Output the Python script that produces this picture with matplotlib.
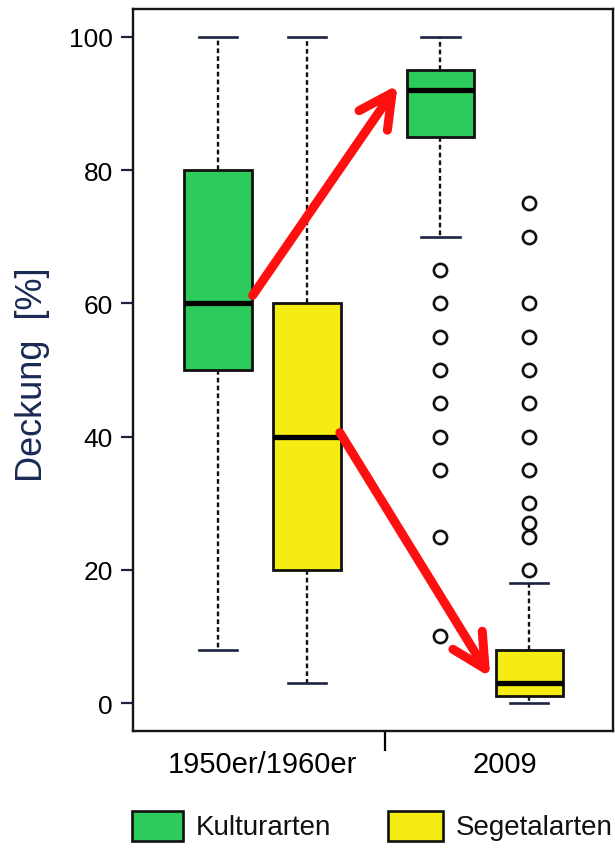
import matplotlib
matplotlib.use('Agg')
import matplotlib.pyplot as plt
from matplotlib.patches import Rectangle

plt.rcParams['font.family'] = ['Liberation Sans', 'DejaVu Sans']

# ---- data ----
groups = ['Kulturarten', 'Segetalarten', 'Kulturarten', 'Segetalarten']
positions = [1, 2, 3.5, 4.5]
whislo = [8, 3, 70, 0]
q1 = [50, 20, 85, 1]
med = [60, 40, 92, 3]
q3 = [80, 60, 95, 8]
whishi = [100, 100, 100, 18]
fliers = [[], [],
          [65, 60, 55, 50, 45, 40, 35, 25, 10],
          [75, 70, 60, 55, 50, 45, 40, 35, 30, 27, 25, 20]]
period_labels = ['1950er/1960er', '2009']
period_label_pos = [1.5, 4.22]
separator_pos = 2.88
yticks = [0, 20, 40, 60, 80, 100]
arrow_starts = [(1.39, 61.2), (2.37, 40.6)]
arrow_ends = [(3.02, 92.8), (4.06, 3.9)]
legend_labels = ['Kulturarten', 'Segetalarten']
colors = {'Kulturarten': '#2DCB5B', 'Segetalarten': '#F4EC12'}

W, H = 615, 854
fig = plt.figure(figsize=(W / 100, H / 100), dpi=100)
ax = fig.add_axes([133 / W, 1 - 732 / H, 480 / W, 722 / H])

stats = []
for i in range(len(positions)):
    stats.append(dict(med=med[i], q1=q1[i], q3=q3[i], whislo=whislo[i],
                      whishi=whishi[i], fliers=fliers[i], label=''))

bp = ax.bxp(stats, positions=positions, widths=0.76, patch_artist=True,
            showfliers=True, capwidths=0.43,
            boxprops=dict(linewidth=2.0, edgecolor='#111111'),
            medianprops=dict(color='black', linewidth=3.8),
            whiskerprops=dict(color='#111111', linewidth=1.7, linestyle=(0, (2, 1.3))),
            capprops=dict(color='#1c2340', linewidth=1.9),
            flierprops=dict(marker='o', markerfacecolor='none',
                            markeredgecolor='#111111', markersize=9.5,
                            markeredgewidth=1.9))
for patch, g in zip(bp['boxes'], groups):
    patch.set_facecolor(colors[g])

ax.set_xlim(0.045, 5.44)
ax.set_ylim(-4.2, 104.2)

ax.set_yticks(yticks)
ax.tick_params(axis='y', length=8.6, width=1.6, pad=6, labelsize=19, color='#1c2340')
ax.set_xticks(period_label_pos, period_labels)
ax.tick_params(axis='x', which='major', length=0, pad=14, labelsize=21)
ax.set_xticks([separator_pos], minor=True)
ax.tick_params(axis='x', which='minor', length=14.4, width=1.6)
for s in ax.spines.values():
    s.set_linewidth(1.7)
    s.set_color('#151515')

for (xs, ys), (xe, ye) in zip(arrow_starts, arrow_ends):
    ax.annotate('', xy=(xe, ye), xytext=(xs, ys),
                arrowprops=dict(arrowstyle='->,head_length=1.2,head_width=0.62',
                                color='#FF1010', lw=6.5, mutation_scale=20,
                                shrinkA=0, shrinkB=0, capstyle='round',
                                joinstyle='round'))

fig.text(33 / W, 1 - 375 / H, 'Deckung  [%]', rotation=90, ha='center',
         va='center', fontsize=26, color='#1a2a55')

# legend
leg_boxes = [(132, 183), (388, 443)]
leg_text_x = [196, 456]
for (x0, x1), tx, lab in zip(leg_boxes, leg_text_x, legend_labels):
    fig.add_artist(Rectangle((x0 / W, 1 - 842 / H), (x1 - x0) / W, 30 / H,
                             transform=fig.transFigure, facecolor=colors[lab],
                             edgecolor='#111111', linewidth=1.9))
    fig.text(tx / W, 1 - 828 / H, lab, ha='left', va='center', fontsize=20,
             color='#111111')

fig.savefig('out.png', dpi=100)
